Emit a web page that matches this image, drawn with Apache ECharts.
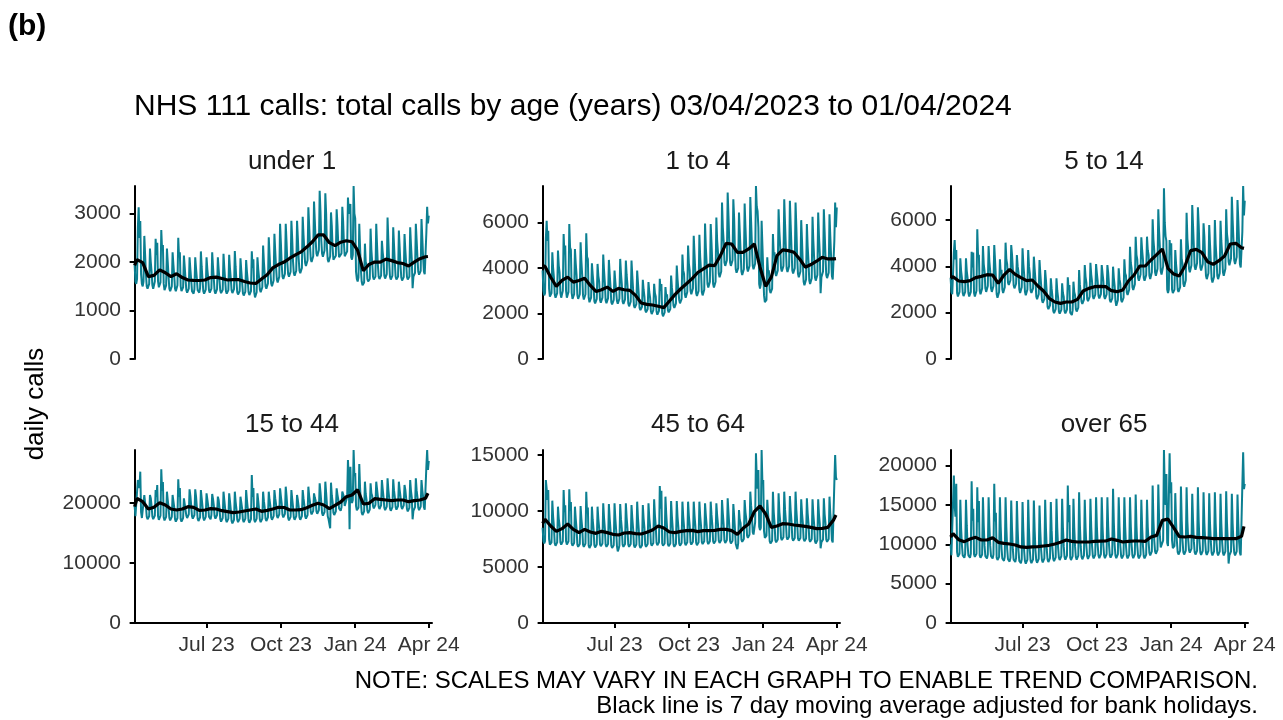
<!DOCTYPE html>
<html lang="en">
<head>
<meta charset="UTF-8">
<title>NHS 111 calls by age</title>
<style>
    html, body {margin: 0; padding: 0; background: #fff;}
    #chart {width: 1283px; height: 720px;}
</style>
</head>
<body>
<div id="chart"></div>
<script src="https://cdn.jsdelivr.net/npm/echarts@6/dist/echarts.min.js"></script>
<script>
    // first day of the series, x ticks and panel names
    var startDate = '2023-04-03';
    var tickDates = ['2023-07-01', '2023-10-01', '2024-01-01', '2024-04-01'];
    var tickLabels = ['Jul 23', 'Oct 23', 'Jan 24', 'Apr 24'];
    var panelNames = ['under 1', '1 to 4', '5 to 14', '15 to 44', '45 to 64', 'over 65'];
    var yTicks = [
        [0, 1000, 2000, 3000],
        [0, 2000, 4000, 6000],
        [0, 2000, 4000, 6000],
        [0, 10000, 20000],
        [0, 5000, 10000, 15000],
        [0, 5000, 10000, 15000, 20000]
    ];

    // daily calls, one row per week (Mon..Sun), last row is Mon 01/04/2024
    var under1Calls = [
        1950,1600,1550,1650,2700,3130,2500,
        2850,1750,1550,1500,1600,2540,2150,
        1750,1500,1450,1430,1550,2280,2000,
        1800,1520,1450,1470,1600,2480,2150,
        2400,1600,1480,1450,1580,2660,2250,
        2350,1550,1420,1400,1520,2280,2000,
        1700,1450,1400,1380,1500,2200,1950,
        1720,1450,1400,1420,1520,2500,2100,
        2200,1500,1400,1380,1480,2135,1900,
        1650,1420,1370,1360,1450,2100,1850,
        1640,1400,1360,1350,1440,2100,1870,
        1660,1420,1380,1370,1460,2220,1900,
        1640,1400,1350,1340,1430,2100,1850,
        1680,1420,1370,1360,1450,2200,1900,
        1650,1400,1350,1330,1440,2100,1850,
        1640,1410,1360,1340,1430,2170,1880,
        1640,1400,1350,1330,1420,2150,1870,
        1660,1420,1360,1350,1440,2230,1900,
        1620,1380,1330,1320,1400,2080,1820,
        1600,1360,1310,1300,1390,2040,1800,
        1620,1380,1320,1310,1400,2225,1880,
        2060,1380,1270,1290,1380,2100,1850,
        1680,1430,1380,1390,1480,2340,2000,
        1750,1500,1450,1450,1560,2510,2150,
        1820,1560,1500,1510,1620,2585,2230,
        1900,1640,1580,1600,1700,2790,2400,
        1950,1700,1650,1660,1760,2790,2420,
        2000,1750,1700,1720,1800,2850,2480,
        2020,1770,1720,1730,1820,2850,2500,
        2080,1820,1770,1780,1880,2935,2560,
        2250,1980,1920,1930,2040,3130,2750,
        2350,2060,2000,2010,2120,3250,2850,
        2450,2180,2120,2130,2250,3470,3050,
        2450,2170,2110,2120,2240,3420,3000,
        2300,2050,2000,2010,2120,3025,2750,
        2300,2050,2010,2020,2130,3090,2780,
        2380,2100,2060,2070,2180,3140,2850,
        2400,2120,2080,2100,2220,3330,3000,
        3050,3200,2100,2050,2150,3570,3000,
        2900,1800,1650,1600,1680,2790,2300,
        1850,1600,1520,1500,1580,2380,2000,
        1950,1650,1600,1580,1650,2690,2250,
        2000,1700,1640,1620,1700,2790,2350,
        1950,1700,1650,1640,1720,2440,2200,
        2050,1720,1660,1650,1750,2920,2450,
        2000,1700,1640,1630,1720,2720,2350,
        1980,1700,1640,1620,1700,2650,2300,
        1950,1680,1620,1600,1690,2580,2250,
        1980,1700,1640,1620,1700,2720,2350,
        2050,1460,1700,1690,1780,2790,2450,
        2100,1800,1740,1730,1820,2890,2500,
        2100,1800,1750,1780,2600,3140,2800,
        2960
    ];
    var age1to4Calls = [
        3900,3000,2800,2900,5300,6083,5200,
        5645,3100,2750,2700,2900,4700,4000,
        3600,2850,2700,2650,2900,4770,4100,
        3800,2900,2700,2720,3000,5500,4600,
        5000,3000,2700,2650,2950,5937,4900,
        4800,2900,2650,2600,2850,4843,4200,
        3700,2800,2650,2600,2850,5135,4300,
        3700,2800,2620,2600,2850,5530,4500,
        4400,2700,2500,2450,2700,4215,3700,
        3300,2550,2450,2420,2650,4186,3650,
        3400,2600,2480,2460,2700,4595,3900,
        3350,2580,2460,2440,2680,4362,3750,
        3200,2500,2400,2380,2600,3895,3400,
        3350,2550,2430,2420,2650,4405,3750,
        3300,2520,2420,2400,2620,4333,3700,
        3250,2450,2320,2300,2520,4333,3650,
        3050,2350,2250,2220,2420,3895,3350,
        2850,2250,2150,2130,2300,3487,3050,
        2750,2150,2050,2030,2200,3384,2950,
        2700,2100,1980,1960,2150,3311,2900,
        2750,2080,1950,1920,2120,3530,3000,
        3300,2000,1880,1850,2050,3166,2750,
        2850,2150,2050,2030,2200,3676,3150,
        3150,2350,2250,2230,2450,4113,3500,
        3450,2600,2450,2430,2650,4595,3900,
        3750,2850,2700,2680,2950,4990,4200,
        3900,3000,2850,2830,3100,5427,4600,
        3800,2900,2780,2760,3000,5470,4500,
        3900,2950,2800,2780,3050,5966,4900,
        4200,3300,3150,3120,3400,5937,5100,
        4200,3300,3150,3120,3400,6229,5200,
        4700,3750,3600,3580,3850,6886,5800,
        5200,4250,4100,4080,4350,7323,6300,
        5150,4250,4100,4080,4350,7032,6200,
        4750,3950,3800,3780,4000,6448,5600,
        4750,3850,3700,3680,3950,6842,5800,
        4900,4000,3850,3830,4100,7134,6050,
        5000,4100,3950,3930,4200,7615,6700,
        6520,5800,3300,3100,3300,6083,5000,
        5000,2800,2500,2436,2600,4478,3800,
        3900,3050,2900,2880,3100,5500,4600,
        4700,3800,3650,3620,3900,6594,5600,
        4950,4000,3850,3820,4100,7032,5950,
        4900,3980,3830,3800,4080,6960,5900,
        4850,3900,3760,3740,4000,6886,5800,
        4500,3750,3600,3580,3850,6112,5200,
        4150,3400,3250,3230,3500,5937,4950,
        4300,3450,3300,3280,3550,6258,5200,
        4450,3600,3450,3430,3700,6448,5400,
        4650,2900,3600,3580,3850,6594,5600,
        4550,3700,3560,3540,3800,6375,5400,
        4500,3650,3500,3480,5200,6886,5800,
        6667
    ];
    var age5to14Calls = [
        3500,2900,2800,2850,4600,5140,4300,
        4708,2850,2700,2680,2900,4348,3800,
        3500,2850,2720,2700,2900,4348,3800,
        3500,2850,2700,2680,2900,4636,3950,
        4600,2850,2700,2680,2950,5600,4400,
        4500,2950,2800,2780,3050,4880,4100,
        3800,3050,2900,2880,3150,4880,4200,
        3800,3050,2900,2880,3150,4924,4250,
        4300,2800,2650,2630,2900,4305,3700,
        3850,3000,2850,2830,3100,5025,4300,
        4100,3300,3200,3180,3400,4924,4500,
        3900,3200,3050,3030,3250,4492,4000,
        3750,3000,2850,2830,3100,4780,4100,
        3650,2900,2750,2730,3000,4708,4000,
        3700,2950,2850,2830,3050,4420,3900,
        3400,2700,2580,2560,2800,4276,3700,
        3200,2550,2430,2410,2600,3844,3400,
        2850,2250,2150,2130,2320,3484,3050,
        2700,2080,1980,1960,2150,3484,2950,
        2650,2050,1960,1940,2120,3268,2850,
        2680,2060,1970,1950,2130,3527,3000,
        3200,2000,1920,1900,2100,3340,2900,
        2750,2150,2050,2030,2220,3844,3200,
        3150,2480,2380,2360,2560,4060,3550,
        3300,2600,2500,2480,2680,4160,3650,
        3350,2700,2600,2580,2780,4103,3700,
        3350,2720,2620,2600,2800,4060,3700,
        3380,2700,2600,2580,2790,4060,3720,
        3200,2550,2450,2430,2620,3988,3500,
        3150,2500,2300,2260,2550,3916,3450,
        3250,2550,2450,2430,2650,4305,3700,
        3600,2880,2770,2750,3000,4852,4150,
        3900,3100,2980,2960,3230,5284,4500,
        4300,3500,3380,3360,3650,5255,4700,
        4300,3500,3380,3360,3630,5284,4700,
        4500,3600,3450,3430,3750,6033,5150,
        4700,3750,3600,3580,3900,6465,5500,
        4800,3800,3650,3700,4000,7372,5900,
        5300,5100,3000,2850,3000,5140,4500,
        5000,3000,2850,2800,3000,4708,4100,
        3700,3000,2900,2880,3100,5169,4300,
        4100,3250,3120,3100,3400,6321,5200,
        4750,3900,3750,3720,4050,6650,5750,
        4850,4000,3850,3830,4150,6551,5800,
        4700,3950,3820,3800,4100,5860,5300,
        4300,3600,3450,3430,3700,5788,4950,
        4200,3450,3300,3280,3550,6004,4950,
        4350,3600,3450,3430,3700,5975,5100,
        4550,3750,3600,3580,3900,6465,5400,
        5100,4200,4050,4030,4350,7012,6000,
        5150,4250,4100,4080,4400,6868,6000,
        5000,4100,3950,3930,5500,7473,6200,
        6840
    ];
    var age15to44Calls = [
        19500,17800,17500,17900,23833,23500,22500,
        25222,18500,17500,17300,17800,21333,20000,
        19500,17700,17300,17100,17800,21333,20800,
        19500,17700,17300,17200,17900,22170,21000,
        23000,17800,17200,17100,17900,25611,22000,
        23500,17600,17100,17000,17700,21890,20500,
        19300,17500,17100,17000,17700,21333,20300,
        19300,17300,16900,16800,17500,23944,21000,
        22500,17300,16900,16800,17500,20778,19800,
        19800,17900,17500,17400,18100,22277,21200,
        19600,17800,17400,17300,18000,22277,21100,
        19300,17400,17000,16900,17600,22170,20800,
        19400,17500,17100,17000,17700,21611,20600,
        19600,17700,17400,17300,18000,21500,20700,
        19600,17800,17400,17300,18000,21055,20500,
        19200,17300,16900,16800,17500,21890,20500,
        19100,17200,16800,16700,17400,21611,20300,
        18900,17000,16600,16500,17200,21890,20200,
        19000,17200,16800,16700,17400,21055,20100,
        19100,17200,16800,16700,17400,22170,20500,
        19100,17100,16700,16600,17300,24666,21000,
        22500,17200,16800,16700,17400,21611,20300,
        19000,17200,16800,16700,17400,21890,20300,
        19200,17400,17000,16900,17600,21890,20500,
        19500,17600,17200,17100,17800,22170,20800,
        19800,17900,17500,17400,18100,22450,21100,
        19900,18000,17600,17500,18200,22722,21200,
        19300,17500,17100,17000,17700,22166,20700,
        19400,17600,17200,17100,17800,21333,20500,
        19400,17600,17200,17100,17800,22166,20800,
        19700,17800,17400,17300,18000,22722,21200,
        20200,18500,18100,18000,18700,21611,20900,
        20400,18600,18200,18100,18800,23277,21800,
        20100,18300,17900,17800,18500,23555,21700,
        19700,17800,17300,17200,15800,23389,21300,
        20200,18400,18000,17900,18600,22444,21400,
        20600,19100,18800,18700,19300,21890,21500,
        21000,19500,19200,19300,21000,27166,24000,
        15611,26055,20500,20000,20500,28833,24500,
        25000,19500,18800,18600,19200,26500,22500,
        20200,18400,18000,17900,18600,23555,21500,
        20500,18700,18300,18200,18900,23277,21600,
        21200,19500,19100,19000,19700,23555,22300,
        21100,19400,19000,18900,19600,23833,22300,
        21000,19200,18800,18700,19400,24111,22200,
        20900,19100,18700,18600,19300,23944,22100,
        21000,19300,18900,18800,19500,23555,22200,
        21100,19400,19000,18900,19600,23000,22200,
        20800,19000,18600,18500,19200,23833,22000,
        20900,17277,18700,18600,19300,24111,22100,
        21000,19200,18800,18700,19400,23833,22200,
        21000,19300,18900,19200,26000,28833,25500,
        27000
    ];
    var age45to64Calls = [
        8500,7300,7100,7300,12768,12000,11000,
        11875,7500,7000,6900,7200,10923,9500,
        8600,7100,6900,6850,7200,10387,9300,
        8700,7200,7000,6950,7300,11875,9900,
        10500,7300,7000,6950,7300,11934,10000,
        10800,7100,6900,6850,7150,10387,9300,
        8400,7000,6800,6750,7050,10440,9300,
        8500,7000,6800,6750,7100,11726,9800,
        10300,6900,6700,6650,7000,10387,9200,
        8400,6950,6750,6700,7000,10387,9250,
        8500,7050,6850,6800,7100,10684,9400,
        8450,7000,6800,6750,7050,10625,9350,
        8350,6900,6700,6650,6950,10684,9300,
        8300,6850,6400,6600,6900,10625,9250,
        8450,7000,6800,6750,7050,10684,9400,
        8450,7000,6800,6750,7050,10536,9350,
        8400,6950,6750,6700,7000,10833,9400,
        8350,6900,6700,6650,6950,10536,9300,
        8500,7000,6800,6750,7050,10684,9400,
        8600,7100,6900,6850,7150,11042,9600,
        8650,7150,6950,6900,7200,12232,10200,
        11815,7100,6900,6850,7100,11280,9700,
        8500,7050,6850,6800,7100,10893,9500,
        8450,7000,6800,6750,7050,10893,9450,
        8550,7100,6900,6850,7150,10833,9500,
        8600,7150,6950,6900,7200,10833,9550,
        8700,7200,7000,6950,7250,10833,9600,
        8650,7150,6950,6900,7200,10833,9550,
        8700,7250,7050,7000,7300,10684,9600,
        8700,7250,7050,7000,7300,10833,9650,
        8750,7300,7100,7050,7350,10684,9600,
        8800,7350,7150,7100,7400,10982,9800,
        8800,7350,7150,7100,7400,11131,9850,
        8700,7300,7100,7050,7350,10625,9600,
        8400,7050,6800,6600,7100,10089,9200,
        8900,7450,7250,7200,7500,10982,9900,
        9300,7800,7600,7550,7900,11726,10500,
        9600,8100,7900,8000,9000,15149,13000,
        12000,13661,8600,8300,8500,15446,12500,
        12768,8200,7600,7500,7800,11000,9800,
        8800,7300,7100,7050,7350,11726,9900,
        8900,7400,7200,7150,7450,11577,9900,
        9100,7600,7400,7350,7650,11726,10100,
        9100,7650,7450,7400,7700,11339,10000,
        9050,7550,7350,7300,7600,11726,10100,
        9000,7550,7350,7300,7600,11042,9800,
        8950,7500,7300,7250,7550,11131,9800,
        8900,7450,7250,7200,7500,11042,9700,
        8800,7300,7100,7050,7400,11042,9650,
        8850,6667,7200,7150,7450,11131,9700,
        8950,7450,7250,7200,7500,11280,9800,
        8900,7400,7200,7300,12500,15000,13000,
        12768
    ];
    var over65Calls = [
        10000,8600,8400,8500,18734,15000,13500,
        17679,9000,8400,8300,8800,15653,12000,
        9900,8600,8350,8300,8800,15653,12400,
        9900,8600,8350,8300,8800,18017,13000,
        14500,8700,8400,8300,8800,17257,12800,
        15500,8600,8300,8200,8700,15991,12400,
        9800,8500,8250,8200,8700,15991,12400,
        9800,8500,8250,8200,8700,17679,12900,
        14000,8300,8000,7950,8400,15991,12200,
        9500,8200,7950,7900,8400,15991,12100,
        9400,8100,7850,7800,8300,15569,11900,
        9350,8050,7800,7750,8250,15485,11850,
        9200,7900,7650,7600,8100,15358,11700,
        9150,7850,7550,7500,8050,15653,11800,
        9200,7900,7600,7550,8100,15569,11800,
        9250,7950,7650,7600,8150,14936,11600,
        9300,8000,7700,7650,8200,15653,11900,
        9350,8050,7750,7700,8250,15358,11800,
        9450,8150,7850,7800,8350,15780,12000,
        9600,8300,8000,7950,8500,15780,12100,
        9700,8350,8050,8000,8550,17468,12800,
        15000,8300,8000,7950,8500,15780,12100,
        9700,8350,8050,8000,8550,16624,12400,
        9700,8400,8100,8050,8600,15653,12100,
        9800,8450,8150,8100,8650,15780,12200,
        9850,8500,8200,8150,8700,15991,12300,
        9900,8550,8250,8200,8750,15991,12300,
        9900,8550,8250,8200,8750,15991,12300,
        9950,8600,8300,8250,8800,17046,12700,
        9900,8550,8250,8200,8750,15991,12300,
        9850,8500,8200,8150,8700,15991,12250,
        9850,8500,8200,8150,8700,15991,12250,
        9900,8550,8250,8200,8750,16329,12400,
        9850,8500,8200,8150,8700,15653,12150,
        9850,8500,8200,8150,8700,15653,12150,
        10300,8900,8600,8550,9100,17468,13000,
        10500,9100,8800,8750,9300,17595,13200,
        11000,9600,9400,9500,10500,21983,17000,
        15000,18945,10200,9800,10000,21561,16500,
        17890,10500,9500,9300,9800,16500,12800,
        10400,9000,8700,8650,9200,17342,13000,
        10400,9000,8700,8650,9200,17257,12900,
        10650,9250,8950,8900,9450,16413,12950,
        10400,9000,8700,8650,9200,17257,12900,
        10350,8950,8650,8600,9150,16624,12700,
        10350,8950,8650,8600,9150,16497,12650,
        10300,8900,8600,8550,9100,16624,12650,
        10300,8900,8600,8550,9100,16413,12600,
        10300,8900,8600,8550,9100,16751,12700,
        10300,7550,8600,8550,9100,16413,12600,
        10300,8900,8600,8550,9100,16329,12600,
        10300,8900,8600,8700,17500,21688,17000,
        17679
    ];

    // 7 day average (bank holiday adjusted):
    // first day, then the Thursday of each week, then 31/03/2024
    var under1Avg = [1930, 2050,1990,1700,1725,1840,1780,1700,1760,1680,1630,1622,1620,1630,1680,1690,1660,1630,1636,1636,1600,1568,1560,1650,1740,1880,1950,2000,2080,2150,2210,2310,2420,2560,2560,2400,2340,2410,2440,2420,2240,1820,1950,2000,2000,2060,2030,1990,1970,1920,2000,2070,2110, 2115];
    var age1to4Avg = [4113, 4070,3600,3195,3457,3603,3384,3457,3559,3238,2975,3048,3165,2975,3107,3048,3019,2800,2465,2407,2377,2319,2260,2552,2844,3092,3311,3540,3807,3968,4128,4113,4551,5091,5062,4697,4697,4843,5062,4040,3200,3603,4551,4800,4770,4697,4405,4040,4157,4303,4478,4405,4405, 4420];
    var age5to14Avg = [3484, 3556,3369,3340,3383,3513,3570,3642,3628,3268,3628,3873,3657,3513,3383,3412,3153,2937,2620,2462,2404,2462,2462,2577,2937,3052,3124,3140,3124,2951,2908,2980,3369,3628,4017,4017,4276,4506,4751,3916,3671,3585,4017,4679,4737,4593,4204,4089,4247,4449,4967,4996,4809, 4780];
    var age15to44Avg = [19389, 20777,20222,19000,19277,20055,19666,19000,18833,19000,19389,19277,18777,18833,19055,19000,18722,18555,18389,18500,18666,18833,19000,18611,18777,19000,19277,19250,18833,18833,18889,19222,19611,19944,19666,19055,19611,20166,21055,21333,22200,19833,19944,20722,20611,20500,20389,20500,20500,20222,20389,20500,20800, 21611];
    var age45to64Avg = [8899, 9256,8661,8185,8423,8839,8363,8066,8363,8125,8006,8185,8066,7917,7857,8036,8066,7976,7946,8095,8304,8661,8482,8125,8066,8185,8244,8270,8155,8244,8244,8274,8363,8363,8244,7917,8452,8839,9940,10446,9732,8542,8661,8869,8839,8750,8691,8631,8542,8423,8452,8542,9196, 9643];
    var over65Avg = [10927, 11349,10589,10336,10674,10885,10547,10547,10843,10252,10125,10041,9914,9661,9619,9661,9703,9788,9872,10041,10252,10547,10378,10294,10294,10294,10378,10400,10421,10674,10505,10294,10378,10421,10421,10378,10927,11138,13037,13206,12109,10969,10927,11011,10885,10843,10800,10716,10716,10716,10716,10716,11011, 12278];

    var allCalls = [under1Calls, age1to4Calls, age5to14Calls, age15to44Calls, age45to64Calls, over65Calls];
    var allAvg = [under1Avg, age1to4Avg, age5to14Avg, age15to44Avg, age45to64Avg, over65Avg];

    function dayIndex (s) {
        return Math.round((Date.parse(s) - Date.parse(startDate)) / 86400000);
    }

    var tickDays = tickDates.map(dayIndex);
    // x position of each average point: day 0, every Thursday, 31/03/2024
    var avgDays = [0];
    for (var k = 0; k < 52; k++) {
        avgDays.push(k * 7 + 3);
    }
    avgDays.push(dayIndex('2024-03-31'));

    var FONT = '"Liberation Sans", Arial, sans-serif';
    var TEAL = '#0b7f91';
    var lefts = [133, 541, 949];
    var tops = [186, 450];
    var titleX = [292, 698, 1104];
    var titleY = [162, 425];

    var grids = [], xAxes = [], yAxes = [], series = [], graphics = [];

    for (var p = 0; p < 6; p++) {
        var col = p % 3, row = Math.floor(p / 3);
        grids.push({left: lefts[col], top: tops[row], width: 299, height: 173});

        xAxes.push({
            type: 'value',
            gridIndex: p,
            min: -2,
            max: 368,
            splitLine: {show: false},
            axisLine: {show: row === 1, onZero: false, lineStyle: {color: '#000', width: 2}},
            axisTick: {show: row === 1, customValues: tickDays, length: 5, lineStyle: {color: '#000', width: 2}},
            axisLabel: {
                show: row === 1,
                customValues: tickDays,
                margin: 12,
                color: '#333',
                fontSize: 21,
                fontFamily: FONT,
                formatter: function (v) {
                    return tickLabels[tickDays.indexOf(v)];
                }
            }
        });

        yAxes.push({
            type: 'value',
            gridIndex: p,
            min: 0,
            max: 'dataMax',
            splitLine: {show: false},
            axisLine: {show: true, lineStyle: {color: '#000', width: 2}},
            axisTick: {show: true, customValues: yTicks[p], length: 5, lineStyle: {color: '#000', width: 2}},
            axisLabel: {
                customValues: yTicks[p],
                margin: 12,
                color: '#333',
                fontSize: 21,
                fontFamily: FONT,
                formatter: function (v) {
                    return String(v);
                }
            }
        });

        series.push({
            type: 'line',
            xAxisIndex: p,
            yAxisIndex: p,
            symbol: 'none',
            silent: true,
            z: 2,
            lineStyle: {color: TEAL, width: 2},
            data: allCalls[p].map(function (v, i) { return [i, v]; })
        });
        series.push({
            type: 'line',
            xAxisIndex: p,
            yAxisIndex: p,
            symbol: 'none',
            silent: true,
            z: 3,
            lineStyle: {color: '#000', width: 3.2},
            data: allAvg[p].map(function (v, i) { return [avgDays[i], v]; })
        });

        graphics.push({
            type: 'text', x: titleX[col], y: titleY[row],
            style: {text: panelNames[p], fill: '#1a1a1a', font: '26px ' + FONT, align: 'center', verticalAlign: 'middle'}
        });
    }

    graphics.push(
        {type: 'text', x: 8, y: 27, style: {text: '(b)', fill: '#000', font: 'bold 30px ' + FONT, verticalAlign: 'middle'}},
        {type: 'text', x: 134, y: 107, style: {text: 'NHS 111 calls: total calls by age (years) 03/04/2023 to 01/04/2024', fill: '#000', font: '30px ' + FONT, verticalAlign: 'middle'}},
        {type: 'text', x: 36, y: 404, rotation: Math.PI / 2, style: {text: 'daily calls', fill: '#000', font: '26px ' + FONT, align: 'center', verticalAlign: 'middle'}},
        {type: 'text', x: 1258, y: 681, style: {text: 'NOTE: SCALES MAY VARY IN EACH GRAPH TO ENABLE TREND COMPARISON.', fill: '#000', font: '24px ' + FONT, align: 'right', verticalAlign: 'middle'}},
        {type: 'text', x: 1258, y: 706, style: {text: 'Black line is 7 day moving average adjusted for bank holidays.', fill: '#000', font: '24px ' + FONT, align: 'right', verticalAlign: 'middle'}}
    );

    var chart = echarts.init(document.getElementById('chart'));
    chart.setOption({
        animation: false,
        backgroundColor: '#fff',
        grid: grids,
        xAxis: xAxes,
        yAxis: yAxes,
        series: series,
        graphic: graphics
    });
</script>
</body>
</html>
